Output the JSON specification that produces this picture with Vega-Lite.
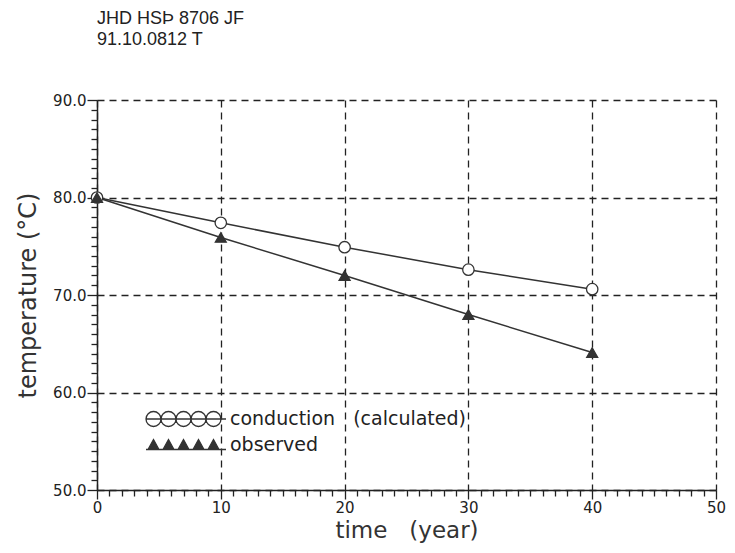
{
  "$schema": "https://vega.github.io/schema/vega-lite/v6.json",
  "autosize": "none",
  "width": 619,
  "height": 390,
  "padding": {"left": 97, "top": 100, "right": 19, "bottom": 63},
  "background": "white",
  "title": {
    "text": "JHD HSÞ 8706 JF",
    "subtitle": "91.10.0812 T",
    "anchor": "start",
    "frame": "group",
    "offset": 44,
    "font": "Liberation Sans",
    "fontSize": 18,
    "fontWeight": "normal",
    "color": "#222",
    "subtitleFont": "Liberation Sans",
    "subtitleFontSize": 18,
    "subtitleColor": "#222",
    "subtitlePadding": 3
  },
  "config": {
    "view": {"stroke": null},
    "axis": {
      "domainColor": "#222",
      "domainWidth": 1.5,
      "tickColor": "#222",
      "tickWidth": 1.3,
      "labelFont": "DejaVu Sans",
      "labelFontSize": 15,
      "labelColor": "#222",
      "titleFont": "DejaVu Sans",
      "titleFontWeight": "normal",
      "titleColor": "#333",
      "gridColor": "#222",
      "gridWidth": 1.3,
      "gridDash": [7, 5],
      "labelOverlap": false,
      "labelFlush": false
    }
  },
  "data": {
    "values": [
      {"year": 0, "temp": 80.0, "series": "conduction (calculated)"},
      {"year": 10, "temp": 77.4, "series": "conduction (calculated)"},
      {"year": 20, "temp": 74.9, "series": "conduction (calculated)"},
      {"year": 30, "temp": 72.6, "series": "conduction (calculated)"},
      {"year": 40, "temp": 70.6, "series": "conduction (calculated)"},
      {"year": 0, "temp": 80.0, "series": "observed"},
      {"year": 10, "temp": 75.9, "series": "observed"},
      {"year": 20, "temp": 72.0, "series": "observed"},
      {"year": 30, "temp": 68.0, "series": "observed"},
      {"year": 40, "temp": 64.1, "series": "observed"}
    ]
  },
  "encoding": {
    "x": {
      "field": "year",
      "type": "quantitative",
      "scale": {"domain": [0, 50], "nice": false, "zero": false},
      "axis": {
        "title": "time\u00a0\u00a0\u00a0(year)",
        "titleFontSize": 23,
        "titlePadding": 4,
        "values": [0,1,2,3,4,5,6,7,8,9,10,11,12,13,14,15,16,17,18,19,20,21,22,23,24,25,26,27,28,29,30,31,32,33,34,35,36,37,38,39,40,41,42,43,44,45,46,47,48,49,50],
        "labelExpr": "datum.value % 10 === 0 ? format(datum.value, 'd') : ''",
        "tickSize": {"condition": {"test": "datum.value % 10 === 0", "value": 9}, "value": 6},
        "gridOpacity": {"condition": {"test": "datum.value % 10 === 0", "value": 1}, "value": 0},
        "labelPadding": 1
      }
    },
    "y": {
      "field": "temp",
      "type": "quantitative",
      "scale": {"domain": [50, 90], "nice": false, "zero": false},
      "axis": {
        "title": "temperature (°C)",
        "titleFontSize": 24,
        "titlePadding": 12,
        "values": [50,51,52,53,54,55,56,57,58,59,60,61,62,63,64,65,66,67,68,69,70,71,72,73,74,75,76,77,78,79,80,81,82,83,84,85,86,87,88,89,90],
        "labelExpr": "datum.value % 10 === 0 ? format(datum.value, '.1f') : ''",
        "tickSize": {"condition": {"test": "datum.value % 10 === 0", "value": 10}, "value": 6},
        "gridOpacity": {"condition": {"test": "datum.value % 10 === 0", "value": 1}, "value": 0},
        "labelPadding": 1
      }
    }
  },
  "layer": [
    {
      "mark": {"type": "line", "strokeWidth": 1.5},
      "encoding": {
        "color": {
          "field": "series",
          "type": "nominal",
          "scale": {"domain": ["conduction (calculated)", "observed"], "range": ["#333333", "#333333"]},
          "legend": {
            "title": null,
            "orient": "none",
            "legendX": 48,
            "legendY": 308,
            "padding": 0,
            "symbolSize": 400,
            "symbolStrokeWidth": 1.3,
            "labelOffset": 63,
            "labelLimit": 0,
            "labelFont": "DejaVu Sans",
            "labelFontSize": 19,
            "labelColor": "#222",
            "rowPadding": 4,
            "labelExpr": "datum.value === 'observed' ? 'observed' : 'conduction\u00a0\u00a0\u00a0(calculated)'",
            "encode": {
              "symbols": {
                "update": {
                  "shape": {"signal": "datum.value === 'observed' ? 'M-1,0.45L7,0.45M-0.8,0.45L-0.25,-0.55L0.3,0.45ZM0.7,0.45L1.25,-0.55L1.8,0.45ZM2.2,0.45L2.75,-0.55L3.3,0.45ZM3.7,0.45L4.25,-0.55L4.8,0.45ZM5.2,0.45L5.75,-0.55L6.3,0.45Z' : 'M-1,0L7,0M0.5,0A0.75,0.75 0 1,0 -1,0A0.75,0.75 0 1,0 0.5,0M2,0A0.75,0.75 0 1,0 0.5,0A0.75,0.75 0 1,0 2,0M3.5,0A0.75,0.75 0 1,0 2,0A0.75,0.75 0 1,0 3.5,0M5,0A0.75,0.75 0 1,0 3.5,0A0.75,0.75 0 1,0 5,0M6.5,0A0.75,0.75 0 1,0 5,0A0.75,0.75 0 1,0 6.5,0'"},
                  "fill": {"signal": "datum.value === 'observed' ? '#333333' : 'transparent'"},
                  "stroke": {"value": "#333333"},
                  "strokeWidth": {"value": 1.3}
                }
              }
            }
          }
        }
      }
    },
    {
      "transform": [{"filter": "datum.series === 'conduction (calculated)'"}],
      "mark": {"type": "point", "shape": "circle", "size": 130, "strokeWidth": 1.3, "opacity": 1, "filled": true, "fill": "white", "stroke": "#333333"}
    },
    {
      "transform": [{"filter": "datum.series === 'observed'"}],
      "mark": {"type": "point", "shape": "triangle-up", "size": 120, "strokeWidth": 1.3, "opacity": 1, "filled": true, "fill": "#333333", "stroke": "#333333"}
    }
  ]
}
